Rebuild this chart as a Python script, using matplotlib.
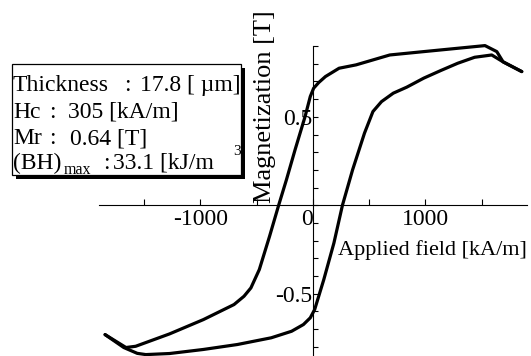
import numpy as np
import matplotlib
matplotlib.use('Agg')
import matplotlib.pyplot as plt
from matplotlib.patches import Rectangle

plt.rcParams['font.family'] = ['Liberation Serif', 'DejaVu Serif']

# hysteresis loop
# descending branch (from +H back to -H)
h_down = [1858, 1692, 1636, 1531, 1290, 970, 685, 535, 385, 234, 113, 53, 8, -22,
          -68, -157, -234, -303, -384, -475, -550, -611, -700, -972, -1273, -1574,
          -1660, -1846]
m_down = [0.756, 0.811, 0.869, 0.903, 0.888, 0.868, 0.850, 0.822, 0.794, 0.775, 0.728,
          0.694, 0.662, 0.615, 0.502, 0.314, 0.144, 0.0, -0.176, -0.364, -0.468, -0.515,
          -0.562, -0.647, -0.728, -0.798, -0.805, -0.732]
# ascending branch (from -H up to +H)
h_up = [-1846, -1680, -1560, -1484, -1273, -972, -670, -369, -188, -83, -22, 17, 53,
        98, 188, 264, 354, 460, 535, 611, 716, 836, 987, 1138, 1288, 1439, 1591,
        1692, 1858]
m_up = [-0.732, -0.805, -0.838, -0.845, -0.839, -0.816, -0.788, -0.750, -0.713, -0.675,
        -0.637, -0.590, -0.515, -0.421, -0.214, 0.0, 0.200, 0.408, 0.530, 0.586, 0.634,
        0.668, 0.719, 0.762, 0.803, 0.837, 0.850, 0.811, 0.756]

x_ticks = [-1500, -1000, -500, 0, 500, 1000, 1500]
x_tick_labels = ['', '-1000', '', '0', '', '1000', '']
y_ticks = [-0.8, -0.7, -0.6, -0.5, -0.4, -0.3, -0.2, -0.1, 0.0,
           0.1, 0.2, 0.3, 0.4, 0.5, 0.6, 0.7, 0.8, 0.9]
y_tick_labels = ['', '', '', '-0.5', '', '', '', '', '',
                 '', '', '', '', '0.5', '', '', '', '']

W, H = 531, 356
def fp(x, y):
    # pixel (from top-left) -> figure fraction
    return x / W, 1 - y / H

fig = plt.figure(figsize=(5.31, 3.56), dpi=100)
ax = fig.add_axes([0, 0, 1, 1])
ax.patch.set_visible(False)
ax.set_xlim(-2780, 1940)
ax.set_ylim(-0.853, 1.161)

ax.plot(h_down, m_down, color='black', lw=2.3, solid_capstyle='round', solid_joinstyle='round')
ax.plot(h_up, m_up, color='black', lw=2.3, solid_capstyle='round', solid_joinstyle='round')

ax.spines['top'].set_visible(False)
ax.spines['right'].set_visible(False)
ax.spines['left'].set_position(('data', 0))
ax.spines['bottom'].set_position(('data', 0))
ax.spines['left'].set_bounds(-0.853, 0.9)
ax.spines['bottom'].set_bounds(-1900, 1903)
ax.spines['left'].set_linewidth(0.8)
ax.spines['bottom'].set_linewidth(0.8)

ax.set_xticks(x_ticks)
ax.set_xticklabels(x_tick_labels)
ax.set_yticks(y_ticks)
ax.set_yticklabels(y_tick_labels)
ax.tick_params(axis='x', direction='in', length=4.5, width=0.8, pad=2.5, labelsize=17)
ax.tick_params(axis='y', direction='in', length=3.5, width=0.8, pad=0, labelsize=17)
ax.get_xticklabels()[3].set_ha('right')

fig.text(*fp(265.5, 106.5), 'Magnetization [T]', rotation=90, ha='center', va='center', fontsize=19)
fig.text(*fp(338, 255), 'Applied field [kA/m]', ha='left', va='baseline', fontsize=16)

# info box with drop shadow
bx0, by0, bx1, by1 = 12, 64, 241, 174.5
shadow = Rectangle(fp(bx0 + 4, by1 + 4), (bx1 - bx0) / W, (by1 - by0) / H,
                   transform=fig.transFigure, facecolor='black', edgecolor='none', zorder=5)
box = Rectangle(fp(bx0, by1), (bx1 - bx0) / W, (by1 - by0) / H,
                transform=fig.transFigure, facecolor='white', edgecolor='black', lw=0.9, zorder=6)
fig.add_artist(shadow)
fig.add_artist(box)

fs = 17
texts = [
    (13, 91, 'Thickness', 'left', fs),
    (127, 91, ':', 'center', fs),
    (139.5, 91, '17.8 [ µm]', 'left', fs),
    (13, 117.5, 'Hc', 'left', fs),
    (52, 117.5, ':', 'center', fs),
    (68, 117.5, '305 [kA/m]', 'left', fs),
    (13, 144, 'Mr', 'left', fs),
    (52, 144, ':', 'center', fs),
    (69.5, 144, '0.64 [T]', 'left', fs),
    (13, 169, '(BH)', 'left', fs),
    (64, 174, 'max', 'left', 11.5),
    (106, 169, ':', 'center', fs),
    (113, 169, '33.1 [kJ/m', 'left', fs),
    (233, 155, '3', 'left', 11),
]
for x, y, s, ha, size in texts:
    t = fig.text(*fp(x, y), s, ha=ha, va='baseline', fontsize=size, zorder=7)
    t.set_clip_path(box)

fig.savefig('out.png', dpi=100)
